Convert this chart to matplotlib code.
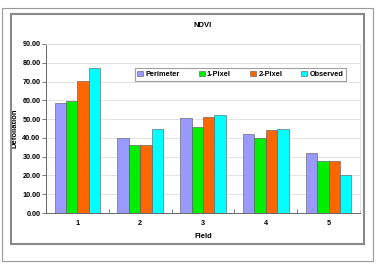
import matplotlib.pyplot as plt
from matplotlib.patches import Rectangle
import numpy as np

# ── Data ─────────────────────────────────────────────────────────────
fields = ["1", "2", "3", "4", "5"]
perimeter = [58.7, 40.0, 50.8, 42.2, 31.7]
pixel1 = [59.8, 36.0, 46.0, 40.0, 27.8]
pixel2 = [70.5, 36.0, 51.0, 44.2, 27.7]
observed = [77.0, 45.0, 52.0, 45.0, 20.0]

series = [("Perimeter", perimeter, "#9999FF"),
          ("1-Pixel", pixel1, "#00EE00"),
          ("2-Pixel", pixel2, "#FF6600"),
          ("Observed", observed, "#00FFFF")]

plt.rcParams["font.family"] = ["Liberation Sans", "DejaVu Sans"]
plt.rcParams["font.weight"] = "bold"

W, H = 376, 266
fig = plt.figure(figsize=(W / 100, H / 100), dpi=100)

# ── Chart frames ─────────────────────────────────────────────────────
fig.patches.append(Rectangle((2 / W, 1 - 261 / H), 371 / W, 253 / H, transform=fig.transFigure,
                             fill=False, edgecolor="#999999", linewidth=0.8))
fig.patches.append(Rectangle((11 / W, 1 - 244 / H), 353 / W, 230 / H, transform=fig.transFigure,
                             fill=False, edgecolor="#888888", linewidth=1.5))

ax = fig.add_axes([46 / W, 1 - 213 / H, 314 / W, 169 / H])

x = np.arange(len(fields))
bw = 0.182
for i, (name, vals, col) in enumerate(series):
    ax.bar(x + (i - 1.5) * bw, vals, bw, color=col, edgecolor="#555555",
           linewidth=0.4, label=name, zorder=3)

ax.set_xlim(-0.5, len(fields) - 0.5)
ax.set_ylim(0, 90)
ax.set_yticks(np.arange(0, 91, 10))
ax.set_yticklabels([f"{v:.2f}" for v in np.arange(0, 91, 10)])
ax.set_xticks(x)
ax.set_xticklabels(fields)
ax.set_xticks(np.arange(-0.5, len(fields), 1), minor=True)
ax.tick_params(axis="x", which="major", length=0, pad=5, labelsize=5.2)
ax.tick_params(axis="x", which="minor", length=3, width=0.6, color="#666666", direction="in")
ax.tick_params(axis="y", length=3, width=0.6, color="#666666", pad=1, labelsize=5.2)
ax.grid(axis="y", color="#DDDDDD", linewidth=0.6, zorder=0)

for s in ["left", "bottom"]:
    ax.spines[s].set_color("#666666")
    ax.spines[s].set_linewidth(0.7)
for s in ["top", "right"]:
    ax.spines[s].set_color("#DDDDDD")
    ax.spines[s].set_linewidth(0.6)

ax.set_title("NDVI", fontsize=5.5, fontweight="bold", pad=12)
ax.set_xlabel("Field", fontsize=5.5, fontweight="bold", labelpad=4)
ax.set_ylabel("Defoliation", fontsize=5.5, fontweight="bold", labelpad=3)

leg = ax.legend(loc="upper left", bbox_to_anchor=(0.283, 0.787, 0.672, 0.071), mode="expand",
                ncol=4, fontsize=5.3, frameon=True, fancybox=False, handlelength=0.8,
                handleheight=0.8, handletextpad=0.3, borderpad=0.35, borderaxespad=0)
leg.get_frame().set_edgecolor("#888888")
leg.get_frame().set_linewidth(0.8)

plt.savefig("out.png", dpi=100)
